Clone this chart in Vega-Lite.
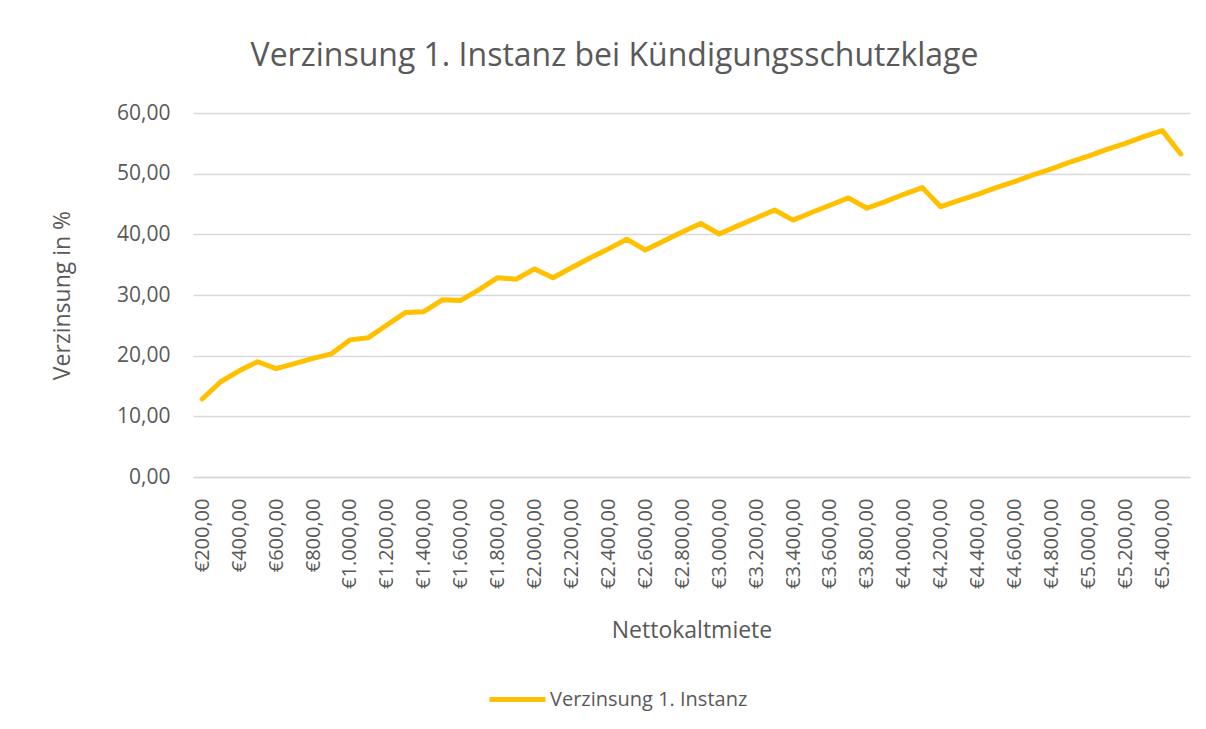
{
  "$schema": "https://vega.github.io/schema/vega-lite/v6.json",
  "autosize": "none",
  "width": 997,
  "height": 364,
  "padding": {"left": 193, "top": 113, "right": 16, "bottom": 252},
  "background": "white",
  "title": {
    "text": "Verzinsung 1. Instanz bei Kündigungsschutzklage",
    "anchor": "middle",
    "dx": -77,
    "dy": 37,
    "offset": 41,
    "baseline": "alphabetic",
    "font": "Open Sans",
    "fontSize": 32,
    "fontWeight": "normal",
    "color": "#595959"
  },
  "data": {
    "values": [
      {"m": 200, "v": 12.86, "s": "Verzinsung 1. Instanz"},
      {"m": 300, "v": 15.7, "s": "Verzinsung 1. Instanz"},
      {"m": 400, "v": 17.5, "s": "Verzinsung 1. Instanz"},
      {"m": 500, "v": 19.0, "s": "Verzinsung 1. Instanz"},
      {"m": 600, "v": 17.85, "s": "Verzinsung 1. Instanz"},
      {"m": 700, "v": 18.7, "s": "Verzinsung 1. Instanz"},
      {"m": 800, "v": 19.55, "s": "Verzinsung 1. Instanz"},
      {"m": 900, "v": 20.3, "s": "Verzinsung 1. Instanz"},
      {"m": 1000, "v": 22.6, "s": "Verzinsung 1. Instanz"},
      {"m": 1100, "v": 22.97, "s": "Verzinsung 1. Instanz"},
      {"m": 1200, "v": 25.05, "s": "Verzinsung 1. Instanz"},
      {"m": 1300, "v": 27.1, "s": "Verzinsung 1. Instanz"},
      {"m": 1400, "v": 27.25, "s": "Verzinsung 1. Instanz"},
      {"m": 1500, "v": 29.2, "s": "Verzinsung 1. Instanz"},
      {"m": 1600, "v": 29.1, "s": "Verzinsung 1. Instanz"},
      {"m": 1700, "v": 30.9, "s": "Verzinsung 1. Instanz"},
      {"m": 1800, "v": 32.85, "s": "Verzinsung 1. Instanz"},
      {"m": 1900, "v": 32.6, "s": "Verzinsung 1. Instanz"},
      {"m": 2000, "v": 34.3, "s": "Verzinsung 1. Instanz"},
      {"m": 2100, "v": 32.85, "s": "Verzinsung 1. Instanz"},
      {"m": 2200, "v": 34.5, "s": "Verzinsung 1. Instanz"},
      {"m": 2300, "v": 36.1, "s": "Verzinsung 1. Instanz"},
      {"m": 2400, "v": 37.6, "s": "Verzinsung 1. Instanz"},
      {"m": 2500, "v": 39.2, "s": "Verzinsung 1. Instanz"},
      {"m": 2600, "v": 37.4, "s": "Verzinsung 1. Instanz"},
      {"m": 2700, "v": 38.9, "s": "Verzinsung 1. Instanz"},
      {"m": 2800, "v": 40.4, "s": "Verzinsung 1. Instanz"},
      {"m": 2900, "v": 41.8, "s": "Verzinsung 1. Instanz"},
      {"m": 3000, "v": 40.05, "s": "Verzinsung 1. Instanz"},
      {"m": 3100, "v": 41.4, "s": "Verzinsung 1. Instanz"},
      {"m": 3200, "v": 42.7, "s": "Verzinsung 1. Instanz"},
      {"m": 3300, "v": 44.0, "s": "Verzinsung 1. Instanz"},
      {"m": 3400, "v": 42.35, "s": "Verzinsung 1. Instanz"},
      {"m": 3500, "v": 43.6, "s": "Verzinsung 1. Instanz"},
      {"m": 3600, "v": 44.8, "s": "Verzinsung 1. Instanz"},
      {"m": 3700, "v": 46.0, "s": "Verzinsung 1. Instanz"},
      {"m": 3800, "v": 44.3, "s": "Verzinsung 1. Instanz"},
      {"m": 3900, "v": 45.4, "s": "Verzinsung 1. Instanz"},
      {"m": 4000, "v": 46.6, "s": "Verzinsung 1. Instanz"},
      {"m": 4100, "v": 47.7, "s": "Verzinsung 1. Instanz"},
      {"m": 4200, "v": 44.55, "s": "Verzinsung 1. Instanz"},
      {"m": 4300, "v": 45.6, "s": "Verzinsung 1. Instanz"},
      {"m": 4400, "v": 46.6, "s": "Verzinsung 1. Instanz"},
      {"m": 4500, "v": 47.7, "s": "Verzinsung 1. Instanz"},
      {"m": 4600, "v": 48.7, "s": "Verzinsung 1. Instanz"},
      {"m": 4700, "v": 49.8, "s": "Verzinsung 1. Instanz"},
      {"m": 4800, "v": 50.8, "s": "Verzinsung 1. Instanz"},
      {"m": 4900, "v": 51.9, "s": "Verzinsung 1. Instanz"},
      {"m": 5000, "v": 52.9, "s": "Verzinsung 1. Instanz"},
      {"m": 5100, "v": 54.0, "s": "Verzinsung 1. Instanz"},
      {"m": 5200, "v": 55.0, "s": "Verzinsung 1. Instanz"},
      {"m": 5300, "v": 56.1, "s": "Verzinsung 1. Instanz"},
      {"m": 5400, "v": 57.1, "s": "Verzinsung 1. Instanz"},
      {"m": 5500, "v": 53.25, "s": "Verzinsung 1. Instanz"}
    ]
  },
  "mark": {"type": "line", "strokeWidth": 5, "strokeCap": "round", "strokeJoin": "round"},
  "encoding": {
    "x": {
      "field": "m",
      "type": "ordinal",
      "sort": "ascending",
      "scale": {"type": "point", "padding": 0.5},
      "axis": {
        "title": "Nettokaltmiete",
        "values": [200, 400, 600, 800, 1000, 1200, 1400, 1600, 1800, 2000, 2200, 2400, 2600, 2800, 3000, 3200, 3400, 3600, 3800, 4000, 4200, 4400, 4600, 4800, 5000, 5200, 5400],
        "labelExpr": "format(datum.value, '$,.2f')",
        "labelAngle": -90,
        "labelAlign": "right",
        "labelBaseline": "middle",
        "labelPadding": 21,
        "labelFont": "Open Sans",
        "labelFontSize": 20,
        "labelColor": "#595959",
        "labelOverlap": false,
        "labelLimit": 0,
        "ticks": false,
        "domain": true,
        "domainColor": "#d9d9d9",
        "domainWidth": 1.5,
        "grid": false,
        "titleFont": "Open Sans",
        "titleFontSize": 23,
        "titleFontWeight": "normal",
        "titleColor": "#595959",
        "titleY": 153,
        "titleBaseline": "middle"
      }
    },
    "y": {
      "field": "v",
      "type": "quantitative",
      "scale": {"domain": [0, 60], "nice": false},
      "axis": {
        "title": "Verzinsung in %",
        "values": [0, 10, 20, 30, 40, 50, 60],
        "format": ",.2f",
        "labelFont": "Open Sans",
        "labelFontSize": 21,
        "labelColor": "#595959",
        "labelPadding": 23,
        "ticks": false,
        "domain": false,
        "grid": true,
        "gridColor": "#d9d9d9",
        "gridWidth": 1.5,
        "titleFont": "Open Sans",
        "titleFontSize": 23,
        "titleFontWeight": "normal",
        "titleColor": "#595959",
        "titleX": -131,
        "titleY": 182,
        "titleAngle": -90,
        "titleAlign": "center",
        "titleBaseline": "middle"
      }
    },
    "color": {
      "field": "s",
      "type": "nominal",
      "scale": {"range": ["#FFC000"]},
      "legend": {
        "title": null,
        "orient": "none",
        "legendX": 294,
        "legendY": 556,
        "padding": 0,
        "symbolType": "stroke",
        "symbolSize": 3136,
        "symbolStrokeWidth": 5,
        "labelFont": "Open Sans",
        "labelFontSize": 20,
        "labelColor": "#595959",
        "labelOffset": 2,
        "labelLimit": 0
      }
    }
  },
  "config": {
    "view": {"stroke": null},
    "locale": {
      "number": {"decimal": ",", "thousands": ".", "grouping": [3], "currency": ["€", ""]}
    }
  }
}
